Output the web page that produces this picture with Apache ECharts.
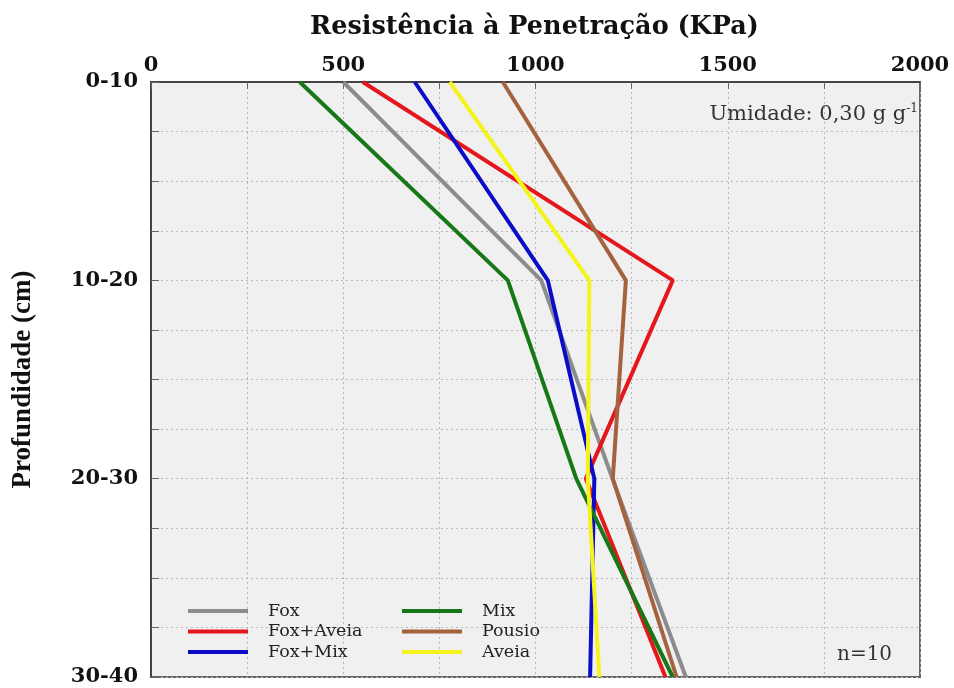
<!DOCTYPE html>
<html>
<head>
<meta charset="utf-8">
<script src="https://cdn.jsdelivr.net/npm/echarts@6/dist/echarts.min.js"></script>
<style>
    html, body {margin: 0; padding: 0; background: #fff;}
    #main {width: 954px; height: 688px;}
</style>
</head>
<body>
<div id="main"></div>
<script>
    // profundidades (posição 0..3 no eixo)
    var depths = ['0-10', '10-20', '20-30', '30-40'];
    // resistência à penetração (KPa) por tratamento
    var fox = [500, 1015, 1200, 1391];
    var foxAveia = [551, 1357, 1131, 1338];
    var foxMix = [686, 1032, 1153, 1142];
    var mix = [387, 928, 1106, 1357];
    var pousio = [915, 1235, 1201, 1367];
    var aveia = [777, 1140, 1136, 1166];

    function toPoints(arr) {
        return arr.map(function (v, i) {
            return [v, i];
        });
    }

    function line(name, data, color) {
        return {
            name: name,
            type: 'line',
            data: toPoints(data),
            color: color,
            showSymbol: false,
            lineStyle: {width: 4, color: color},
            animation: false
        };
    }

    var serif = 'DejaVu Serif';
    var legendText = {fontFamily: serif, fontSize: 17.5, color: '#222', lineHeight: 18, padding: [0, 0, 0, 15]};

    var chart = echarts.init(document.getElementById('main'));
    chart.setOption({
        animation: false,
        title: {
            text: 'Resistência à Penetração (KPa)',
            left: 305, top: 9,
            textStyle: {fontFamily: serif, fontWeight: 'bold', fontSize: 25.5, color: '#111'}
        },
        grid: {
            left: 151, top: 82, width: 769, height: 595,
            show: true, backgroundColor: '#f0f0f0', borderColor: '#666', borderWidth: 2
        },
        legend: [
            {
                data: ['Fox', 'Fox+Aveia', 'Fox+Mix'],
                orient: 'vertical', left: 183, top: 597,
                icon: 'rect', itemWidth: 60, itemHeight: 4, itemGap: 2.5,
                selectedMode: false, textStyle: legendText
            },
            {
                data: ['Mix', 'Pousio', 'Aveia'],
                orient: 'vertical', left: 397, top: 597,
                icon: 'rect', itemWidth: 60, itemHeight: 4, itemGap: 2.5,
                selectedMode: false, textStyle: legendText
            }
        ],
        xAxis: {
            type: 'value', position: 'top',
            min: 0, max: 2000, interval: 250,
            axisLine: {show: true, lineStyle: {color: '#444', width: 2}},
            axisTick: {show: true, inside: true, length: 7, lineStyle: {color: '#666'}},
            axisLabel: {
                margin: 6, fontFamily: serif, fontWeight: 'bold', fontSize: 21, color: '#111',
                formatter: function (v) {
                    return v % 500 === 0 ? String(v) : '';
                }
            },
            splitLine: {show: true, lineStyle: {color: '#b8b8b8', type: [2, 3], width: 1}}
        },
        yAxis: {
            type: 'value', inverse: true,
            min: 0, max: 3, interval: 0.25,
            name: 'Profundidade (cm)', nameLocation: 'middle', nameRotate: 90, nameGap: 114,
            nameTextStyle: {fontFamily: 'Liberation Serif', fontWeight: 'bold', fontSize: 27, color: '#111'},
            axisLine: {show: true, lineStyle: {color: '#444', width: 2}},
            axisTick: {show: true, inside: true, length: 8, lineStyle: {color: '#666'}},
            axisLabel: {
                margin: 13, fontFamily: serif, fontWeight: 'bold', fontSize: 21, color: '#111',
                formatter: function (v) {
                    return Math.abs(v - Math.round(v)) < 1e-6 ? depths[Math.round(v)] : '';
                }
            },
            splitLine: {show: true, lineStyle: {color: '#b8b8b8', type: [2, 3], width: 1}}
        },
        graphic: [
            {
                type: 'text', right: 36, top: 103,
                style: {
                    text: '{a|Umidade: 0,30 g g}{s|-1}',
                    rich: {
                        a: {fontFamily: serif, fontSize: 21, fill: '#333', color: '#333'},
                        s: {fontFamily: serif, fontSize: 12, fill: '#333', color: '#333', verticalAlign: 'top', padding: [0, 0, 11, 0]}
                    }
                }
            },
            {
                type: 'text', left: 837, top: 645,
                style: {text: 'n=10', fontFamily: serif, fontSize: 20, fill: '#333'}
            }
        ],
        series: [
            line('Fox', fox, '#8c8c8c'),
            line('Fox+Aveia', foxAveia, '#e5161c'),
            line('Fox+Mix', foxMix, '#0c0cc8'),
            line('Mix', mix, '#187818'),
            line('Pousio', pousio, '#a5623f'),
            line('Aveia', aveia, '#f4f41c')
        ]
    });
</script>
</body>
</html>
